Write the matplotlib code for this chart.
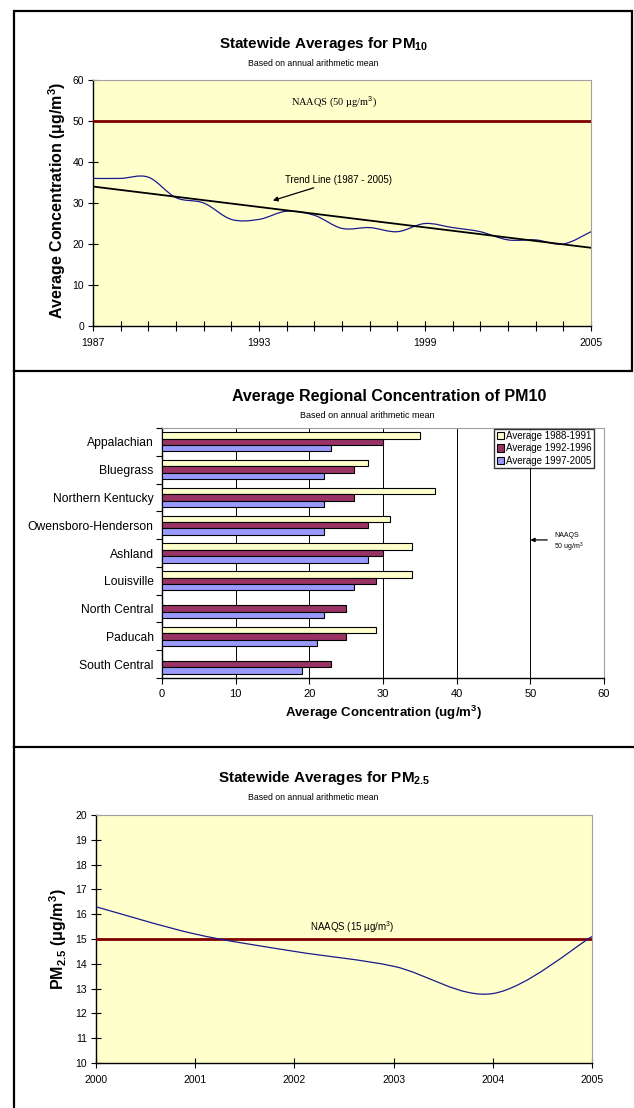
import matplotlib
matplotlib.use('Agg')
import matplotlib.pyplot as plt
import numpy as np
from matplotlib.path import Path
from matplotlib.patches import PathPatch, Rectangle
from matplotlib.lines import Line2D

plt.rcParams['font.family'] = ['Liberation Sans', 'DejaVu Sans']
plt.rcParams['mathtext.fontset'] = 'custom'
plt.rcParams['mathtext.rm'] = 'Liberation Sans'
plt.rcParams['mathtext.bf'] = 'Liberation Sans:bold'
plt.rcParams['mathtext.it'] = 'Liberation Sans:italic'

# ---------------- data ----------------
pm10_years = list(range(1987, 2006))
pm10_values = [36, 36, 36.3, 31.3, 30, 26, 26, 28, 27, 23.8, 24, 23, 25, 24, 23, 21, 21, 20, 23]
pm10_label_years = [1987, 1993, 1999, 2005]
pm10_naaqs = 50

regions = ['Appalachian', 'Bluegrass', 'Northern Kentucky', 'Owensboro-Henderson',
           'Ashland', 'Louisville', 'North Central', 'Paducah', 'South Central']
avg_1988_1991 = [35, 28, 37, 31, 34, 34, np.nan, 29, np.nan]
avg_1992_1996 = [30, 26, 26, 28, 30, 29, 25, 25, 23]
avg_1997_2005 = [23, 22, 22, 22, 28, 26, 22, 21, 19]
series_labels = ['Average 1988-1991', 'Average 1992-1996', 'Average 1997-2005']

pm25_years = [2000, 2001, 2002, 2003, 2004, 2005]
pm25_values = [16.3, 15.2, 14.5, 13.9, 12.8, 15.1]
pm25_naaqs = 15

W, H = 634, 1108
fig = plt.figure(figsize=(W / 100, H / 100), dpi=100)
fig.patch.set_facecolor('white')


def fx(px):
    return px / W


def fy(py):
    return 1 - py / H


def axes_rect(l, t, r, b):
    return [fx(l), fy(b), (r - l) / W, (b - t) / H]


def smooth_path(x, y, t=1 / 6):
    pts = np.column_stack([x, y]).astype(float)
    n = len(pts)
    verts = [pts[0]]
    codes = [Path.MOVETO]
    for i in range(n - 1):
        p0 = pts[i - 1] if i > 0 else pts[i]
        p1 = pts[i]
        p2 = pts[i + 1]
        p3 = pts[i + 2] if i + 2 < n else pts[i + 1]
        c1 = p1 + (p2 - p0) * t
        c2 = p2 - (p3 - p1) * t
        verts += [c1, c2, p2]
        codes += [Path.CURVE4] * 3
    return Path(verts, codes)


def style_spines(ax):
    for s in ['top', 'right']:
        ax.spines[s].set_color('#a0a0a0')
        ax.spines[s].set_linewidth(0.8)
    for s in ['left', 'bottom']:
        ax.spines[s].set_color('black')
        ax.spines[s].set_linewidth(1.0)


YELLOW = '#FFFFCC'
CURVE = '#1a1a8c'
NAAQS_RED = '#800000'

# ---------------- panel borders ----------------
fig.add_artist(Rectangle((fx(14), fy(371)), (632 - 14) / W, (371 - 11) / H,
                         transform=fig.transFigure, fill=False, lw=1.6, ec='black'))
fig.add_artist(Line2D([fx(14), fx(634)], [fy(747), fy(747)], transform=fig.transFigure,
                      color='black', lw=1.6))
fig.add_artist(Line2D([fx(14), fx(14)], [fy(371), fy(1108)], transform=fig.transFigure,
                      color='black', lw=1.6))

# ---------------- panel 1: PM10 line ----------------
ax1 = fig.add_axes(axes_rect(93, 80, 591, 326))
ax1.set_facecolor(YELLOW)
ax1.set_xlim(pm10_years[0], pm10_years[-1])
ax1.set_ylim(0, 60)
ax1.set_yticks(range(0, 61, 10))
ax1.set_xticks(pm10_years)
ax1.set_xticklabels([str(y) if y in pm10_label_years else '' for y in pm10_years])
ax1.tick_params(direction='inout', length=7, width=0.8, labelsize=7.5, pad=3)
ax1.tick_params(axis='x', pad=5)
style_spines(ax1)
ax1.axhline(pm10_naaqs, color=NAAQS_RED, lw=2.0, zorder=3)
ax1.add_patch(PathPatch(smooth_path(pm10_years, pm10_values), fc='none', ec=CURVE, lw=0.9, zorder=4))
coef = np.polyfit(pm10_years, pm10_values, 1)
tx = np.array([pm10_years[0], pm10_years[-1]])
ax1.plot(tx, np.polyval(coef, tx), color='black', lw=1.3, zorder=5)
ax1.text(1995.7, 52.6, 'NAAQS (50 µg/m$^3$)', family='Liberation Serif', fontsize=7.5,
         ha='center', va='bottom')
ax1.annotate('Trend Line (1987 - 2005)', xy=(1993.5, 30.6), xytext=(1993.95, 35.6),
             fontsize=7, ha='left', va='center',
             arrowprops=dict(arrowstyle='-|>', color='black', lw=0.9, mutation_scale=7,
                             shrinkA=0, shrinkB=0))
fig.text(fx(324), fy(44), r'Statewide Averages for PM$_{\mathbf{10}}$', fontsize=11,
         fontweight='bold', ha='center', va='center')
fig.text(fx(313), fy(64), 'Based on annual arithmetic mean', fontsize=6.3, ha='center', va='center')
fig.text(fx(57), fy(200), r'Average Concentration ($\mathbf{\mu}$g/m$^\mathbf{3}$)', fontsize=11.5,
         fontweight='bold', rotation=90, ha='center', va='center')

# ---------------- panel 2: regional bars ----------------
ax2 = fig.add_axes(axes_rect(162, 428, 604, 678))
ax2.set_facecolor('white')
n = len(regions)
ypos = np.arange(n)[::-1].astype(float)
bh = 0.23
ax2.barh(ypos + bh, avg_1988_1991, height=bh, color='#FFFFCC', edgecolor='black', lw=0.8,
         label=series_labels[0], zorder=3)
ax2.barh(ypos, avg_1992_1996, height=bh, color='#993366', edgecolor='black', lw=0.8,
         label=series_labels[1], zorder=3)
ax2.barh(ypos - bh, avg_1997_2005, height=bh, color='#9999FF', edgecolor='black', lw=0.8,
         label=series_labels[2], zorder=3)
ax2.set_xlim(0, 60)
ax2.set_ylim(-0.5, n - 0.5)
ax2.set_xticks(range(0, 61, 10))
ax2.set_yticks(ypos)
ax2.set_yticklabels(regions)
ax2.set_yticks(np.arange(-0.5, n, 1.0), minor=True)
ax2.tick_params(axis='y', which='major', length=0, labelsize=8.7, pad=6)
ax2.tick_params(axis='y', which='minor', length=4, width=0.8, direction='out')
ax2.tick_params(axis='x', length=4, width=0.8, direction='out', labelsize=8, pad=4)
for v in range(10, 60, 10):
    ax2.axvline(v, color='black', lw=0.7, zorder=1)
style_spines(ax2)
leg = ax2.legend(loc='upper right', bbox_to_anchor=(0.977, 0.998), fontsize=7, frameon=True,
                 fancybox=False, handlelength=0.75,
                 handleheight=0.75, handletextpad=0.2,
                 borderpad=0.25, labelspacing=0.25, borderaxespad=0)
leg.get_frame().set_edgecolor('black')
leg.get_frame().set_linewidth(1.0)
leg.set_zorder(6)
ax2.annotate('', xy=(50, 4.47), xytext=(52.3, 4.47),
             arrowprops=dict(arrowstyle='-|>', color='black', lw=0.9, mutation_scale=6,
                             shrinkA=0, shrinkB=0))
ax2.text(53.2, 4.62, 'NAAQS', fontsize=5, ha='left', va='center')
ax2.text(53.2, 4.22, '50 ug/m$^3$', fontsize=5, ha='left', va='center')
fig.text(fx(389), fy(396), 'Average Regional Concentration of PM10', fontsize=11.5,
         fontweight='bold', ha='center', va='center')
fig.text(fx(367), fy(415), 'Based on annual arithmetic mean', fontsize=6.5, ha='center', va='center')
fig.text(fx(383), fy(713), r'Average Concentration (ug/m$^\mathbf{3}$)', fontsize=9.5,
         fontweight='bold', ha='center', va='center')

# ---------------- panel 3: PM2.5 line ----------------
ax3 = fig.add_axes(axes_rect(96, 815, 592, 1063))
ax3.set_facecolor(YELLOW)
ax3.set_xlim(pm25_years[0], pm25_years[-1])
ax3.set_ylim(10, 20)
ax3.set_yticks(range(10, 21))
ax3.set_xticks(pm25_years)
ax3.tick_params(direction='inout', length=7, width=0.8, labelsize=7.5, pad=3)
ax3.tick_params(axis='x', pad=5)
style_spines(ax3)
ax3.axhline(pm25_naaqs, color=NAAQS_RED, lw=2.0, zorder=3)
ax3.add_patch(PathPatch(smooth_path(pm25_years, pm25_values), fc='none', ec=CURVE, lw=0.9, zorder=4))
ax3.text(2002.58, 15.15, 'NAAQS (15 µg/m$^3$)', fontsize=7, ha='center', va='bottom')
fig.text(fx(324), fy(778), r'Statewide Averages for PM$_{\mathbf{2.5}}$', fontsize=11,
         fontweight='bold', ha='center', va='center')
fig.text(fx(313), fy(797), 'Based on annual arithmetic mean', fontsize=6.3, ha='center', va='center')
fig.text(fx(58), fy(939), r'PM$_{\mathbf{2.5}}$ ($\mathbf{\mu}$g/m$^\mathbf{3}$)', fontsize=11.5,
         fontweight='bold', rotation=90, ha='center', va='center')

fig.savefig('out.png', dpi=100, facecolor='white')
